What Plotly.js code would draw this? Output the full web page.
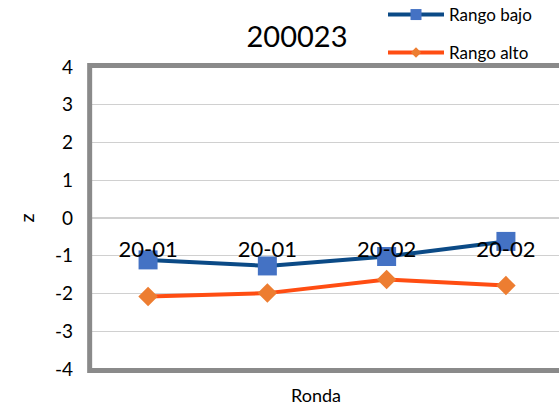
<!DOCTYPE html>
<html>
<head>
<meta charset="utf-8">
<script src="https://cdn.plot.ly/plotly-3.0.1.min.js"></script>
<style>html,body{margin:0;padding:0;background:#fff;}#chart{width:559px;height:410px;}</style>
</head>
<body>
<div id="chart"></div>
<script>
var categories = ["20-01 ", "20-01", "20-02 ", "20-02"];
var tickLabels = ["20-01", "20-01", "20-02", "20-02"];
var rangoBajo = [-1.11, -1.27, -1.02, -0.62];
var rangoAlto = [-2.08, -1.99, -1.63, -1.79];
var yTicks = [-4, -3, -2, -1, 0, 1, 2, 3, 4];

var font = "Lato, 'Open Sans', sans-serif";
var bajoLine = "#0B4A86", bajoMarker = "#4472C4";
var altoLine = "#FF4D12", altoMarker = "#ED7D31";

var traces = [
  {
    x: categories, y: rangoBajo, name: "Rango bajo", type: "scatter", mode: "lines+markers",
    line: {color: bajoLine, width: 4},
    marker: {symbol: "square", size: 19, color: bajoMarker},
    showlegend: false
  },
  {
    x: categories, y: rangoAlto, name: "Rango alto", type: "scatter", mode: "lines+markers",
    line: {color: altoLine, width: 4},
    marker: {symbol: "diamond", size: 15, color: altoMarker},
    showlegend: false
  },
  {
    x: [null], y: [null], name: "Rango bajo", type: "scatter", mode: "lines+markers",
    line: {color: bajoLine, width: 4},
    marker: {symbol: "square", size: 11, color: bajoMarker},
    legend: "legend", showlegend: true
  },
  {
    x: [null], y: [null], name: "Rango alto", type: "scatter", mode: "lines+markers",
    line: {color: altoLine, width: 4},
    marker: {symbol: "diamond", size: 8, color: altoMarker},
    legend: "legend2", showlegend: true
  }
];

var frameColor = "#8A8A8A";
var layout = {
  width: 559, height: 410,
  margin: {l: 92, r: 0, t: 67, b: 41, autoexpand: false},
  paper_bgcolor: "#fff", plot_bgcolor: "#fff",
  font: {family: font, color: "#000"},
  title: {text: "200023", font: {size: 29, family: font, color: "#000"},
          x: 297/559, xref: "container", xanchor: "center",
          y: 1 - 37/410, yref: "container", yanchor: "middle"},
  xaxis: {
    type: "category", categoryarray: categories,
    range: [-0.47, 3.445],
    tickvals: categories, ticktext: tickLabels,
    anchor: "free", position: 0.5,
    showgrid: false, zeroline: false, showline: false,
    ticks: "", ticklabelstandoff: 16,
    tickfont: {size: 22, color: "#000", family: font},
    title: {text: ""}
  },
  yaxis: {
    range: [-4, 4], tickvals: yTicks, ticktext: yTicks.map(String),
    showgrid: true, gridcolor: "#D0D0D0", gridwidth: 1.3,
    zeroline: false, showline: false, ticks: "",
    ticklabelstandoff: 18,
    tickfont: {size: 19, color: "#000", family: font},
    title: {text: "z", font: {size: 20, color: "#000", family: font}, standoff: 14}
  },
  annotations: [
    {text: "Ronda", xref: "paper", yref: "paper", x: (316 - 92) / 467, y: (369 - 395) / 302,
     xanchor: "center", yanchor: "middle", showarrow: false,
     font: {size: 18, color: "#000", family: font}}
  ],
  shapes: [
    {type: "path", xref: "paper", yref: "paper",
     path: "M 1.05 1.005 L -0.005 1.005 L -0.005 -0.005 L 1.05 -0.005",
     line: {color: frameColor, width: 5}, layer: "above"}
  ],
  showlegend: true,
  legend: {xref: "container", yref: "container", x: 383/559, y: 1 - 15/410,
           xanchor: "left", yanchor: "middle", bgcolor: "rgba(0,0,0,0)",
           font: {size: 17, color: "#000", family: font}, itemwidth: 56},
  legend2: {xref: "container", yref: "container", x: 383/559, y: 1 - 53/410,
            xanchor: "left", yanchor: "middle", bgcolor: "rgba(0,0,0,0)",
            font: {size: 17, color: "#000", family: font}, itemwidth: 56}
};

Plotly.newPlot("chart", traces, layout, {displayModeBar: false, staticPlot: true});
</script>
</body>
</html>
